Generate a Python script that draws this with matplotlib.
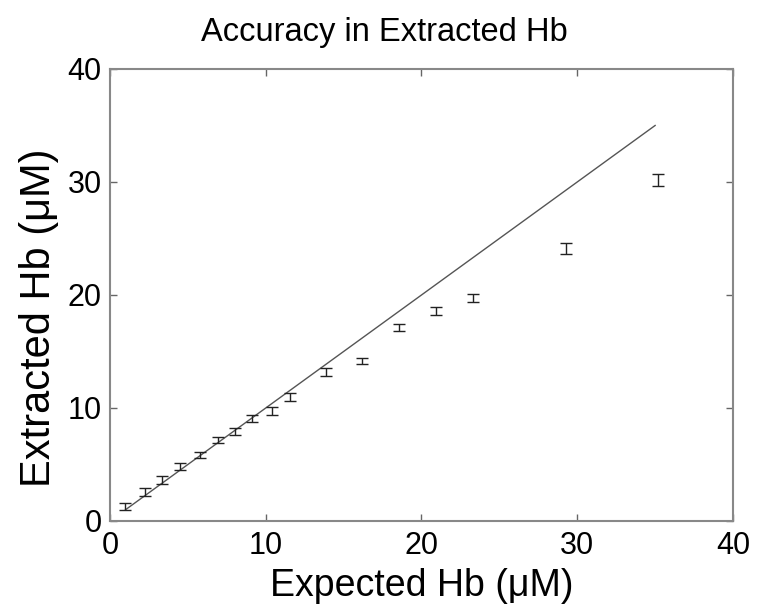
import matplotlib
matplotlib.use('Agg')
import matplotlib.pyplot as plt

# values
expected = [0.96, 2.25, 3.36, 4.49, 5.78, 6.95, 8.02, 9.09, 10.38, 11.55,
            13.9, 16.2, 18.57, 20.95, 23.3, 29.27, 35.2]
extracted = [1.27, 2.6, 3.63, 4.8, 5.84, 7.17, 7.9, 9.09, 9.76, 10.95,
             13.2, 14.16, 17.12, 18.6, 19.7, 24.14, 30.17]
err = [0.3, 0.35, 0.35, 0.3, 0.3, 0.3, 0.3, 0.3, 0.35, 0.35,
       0.35, 0.3, 0.35, 0.35, 0.35, 0.5, 0.55]
ideal = [1, 35]
ticks = [0, 10, 20, 30, 40]

plt.rcParams['font.family'] = ['Liberation Sans', 'DejaVu Sans']

fig = plt.figure(figsize=(7.57, 6.12), dpi=100)
ax = fig.add_axes([0.1453, 0.1487, 0.823, 0.7386])

ax.plot(ideal, ideal, color='#555555', lw=1.0)
ax.errorbar(expected, extracted, yerr=err, fmt='none', ecolor='#222222',
            elinewidth=1.0, capsize=4, capthick=1.0)

ax.set_xlim(0, 40)
ax.set_ylim(0, 40)
ax.set_xticks(ticks)
ax.set_yticks(ticks)
ax.tick_params(direction='in', top=True, right=True, length=5, width=1,
               color='#666666', labelsize=22)
ax.tick_params(axis='x', pad=7)
ax.tick_params(axis='y', pad=6)
for s in ax.spines.values():
    s.set_color('#888888')
    s.set_linewidth(1.5)

# title sits left of the axes centre in the original
ax.set_title('Accuracy in Extracted Hb', fontsize=23.5, pad=20, x=0.44)
ax.set_xlabel('Expected Hb (μM)', fontsize=27, labelpad=5)
ax.set_ylabel('Extracted Hb (μM)', fontsize=30, labelpad=6, y=0.45)

fig.savefig('out.png', dpi=100)
